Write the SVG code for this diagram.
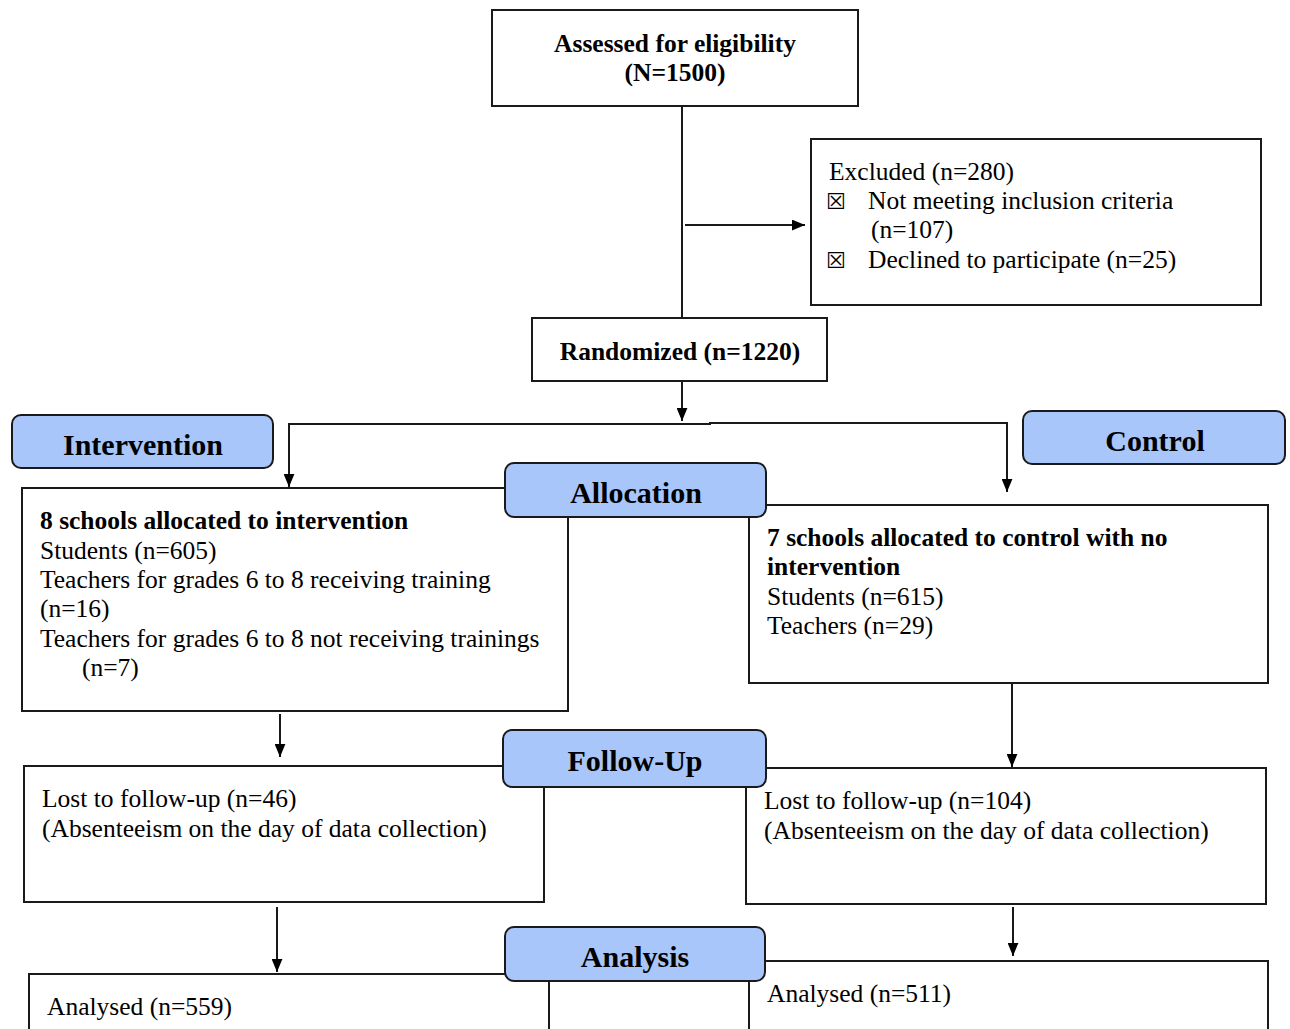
<svg xmlns="http://www.w3.org/2000/svg" width="1290" height="1029" viewBox="0 0 1290 1029">
<style>
.box{fill:#fff;stroke:#1a1a1a;stroke-width:2}
.lab{fill:#a8c6fa;stroke:#1a1a1a;stroke-width:2}
.t{font-family:"Liberation Serif","Times New Roman",serif;font-size:25.5px;fill:#000}
.b{font-weight:bold}
.h{font-family:"Liberation Serif","Times New Roman",serif;font-size:30px;font-weight:bold;fill:#000;text-anchor:middle}
.c{text-anchor:middle}
.ln{fill:none;stroke:#1a1a1a;stroke-width:2}
.ck{font-family:"DejaVu Sans",sans-serif;font-size:22px}
</style>
<defs>
<marker id="ar" viewBox="0 0 12 10" refX="12" refY="5" markerWidth="13" markerHeight="11" markerUnits="userSpaceOnUse" orient="auto">
<path d="M0,0 L12,5 L0,10 Z" fill="#000"/>
</marker>
</defs>
<g id="connectors">
<path class="ln" d="M682,106 V318"/>
<path class="ln" d="M685,225 H805" marker-end="url(#ar)"/>
<path class="ln" d="M682,381 V421" marker-end="url(#ar)"/>
<path class="ln" d="M289,487 V424 H710 V423 H1007 V492" marker-end="url(#ar)"/>
<path class="ln" d="M289,424 V487" marker-end="url(#ar)"/>
<path class="ln" d="M280,714 V757" marker-end="url(#ar)"/>
<path class="ln" d="M1012,683 V767" marker-end="url(#ar)"/>
<path class="ln" d="M277,907 V972" marker-end="url(#ar)"/>
<path class="ln" d="M1013,907 V956" marker-end="url(#ar)"/>
</g>
<g id="assessed">
<rect class="box" x="492" y="10" width="366" height="96"/>
<text class="t b c" x="675" y="52">Assessed for eligibility</text>
<text class="t b c" x="675" y="81">(N=1500)</text>
</g>
<g id="excluded">
<rect class="box" x="811" y="139" width="450" height="166"/>
<text class="t" x="829" y="180">Excluded (n=280)</text>
<text class="ck" x="826" y="209">☒</text>
<text class="t" x="868" y="209">Not meeting inclusion criteria</text>
<text class="t" x="871" y="238">(n=107)</text>
<text class="ck" x="826" y="268">☒</text>
<text class="t" x="868" y="268">Declined to participate (n=25)</text>
</g>
<g id="randomized">
<rect class="box" x="532" y="318" width="295" height="63"/>
<text class="t b c" x="680" y="360">Randomized (n=1220)</text>
</g>
<g id="intervention-box">
<rect class="box" x="22" y="488" width="546" height="223"/>
<text class="t b" x="40" y="529">8 schools allocated to intervention</text>
<text class="t" x="40" y="559">Students (n=605)</text>
<text class="t" x="40" y="588">Teachers for grades 6 to 8 receiving training</text>
<text class="t" x="40" y="617">(n=16)</text>
<text class="t" x="40" y="647">Teachers for grades 6 to 8 not receiving trainings</text>
<text class="t" x="82" y="676">(n=7)</text>
</g>
<g id="control-box">
<rect class="box" x="749" y="505" width="519" height="178"/>
<text class="t b" x="767" y="546">7 schools allocated to control with no</text>
<text class="t b" x="767" y="575">intervention</text>
<text class="t" x="767" y="605">Students (n=615)</text>
<text class="t" x="767" y="634">Teachers (n=29)</text>
</g>
<g id="followup-left">
<rect class="box" x="24" y="766" width="520" height="136"/>
<text class="t" x="42" y="807">Lost to follow-up (n=46)</text>
<text class="t" x="42" y="837">(Absenteeism on the day of data collection)</text>
</g>
<g id="followup-right">
<rect class="box" x="746" y="768" width="520" height="136"/>
<text class="t" x="764" y="809">Lost to follow-up (n=104)</text>
<text class="t" x="764" y="839">(Absenteeism on the day of data collection)</text>
</g>
<g id="analysis-left">
<rect class="box" x="29" y="974" width="520" height="80"/>
<text class="t" x="47" y="1015">Analysed (n=559)</text>
</g>
<g id="analysis-right">
<rect class="box" x="749" y="961" width="519" height="90"/>
<text class="t" x="767" y="1002">Analysed (n=511)</text>
</g>
<g id="label-intervention">
<rect class="lab" x="12" y="415" width="261" height="53" rx="9"/>
<text class="h" x="143" y="455">Intervention</text>
</g>
<g id="label-control">
<rect class="lab" x="1023" y="411" width="262" height="53" rx="9"/>
<text class="h" x="1155" y="451">Control</text>
</g>
<g id="label-allocation">
<rect class="lab" x="505" y="463" width="261" height="54" rx="9"/>
<text class="h" x="636" y="503">Allocation</text>
</g>
<g id="label-followup">
<rect class="lab" x="503" y="730" width="263" height="57" rx="9"/>
<text class="h" x="635" y="771">Follow-Up</text>
</g>
<g id="label-analysis">
<rect class="lab" x="505" y="927" width="260" height="54" rx="9"/>
<text class="h" x="635" y="967">Analysis</text>
</g>
</svg>
